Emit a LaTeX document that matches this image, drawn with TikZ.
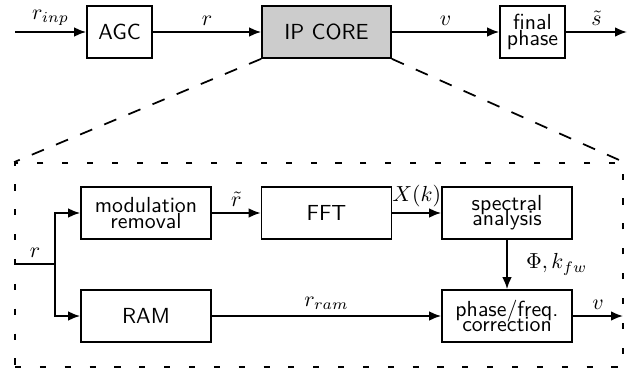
\documentclass[tikz,border=0pt]{standalone}
\usetikzlibrary{arrows.meta}
\begin{document}
\begin{tikzpicture}[x=0.4587pt,y=-0.4587pt,
  line width=0.8pt,
  box/.style={draw, inner sep=0pt, font=\sffamily, align=center, minimum height=23.85pt},
  sbox/.style={box, minimum width=29.82pt},
  wbox/.style={box, minimum width=59.63pt},
  arr/.style={-{Latex[length=5.5pt,width=4.4pt]}},
  lbl/.style={above, inner sep=2.5pt},
  bdash/.style={dash pattern=on 2.8pt off 8.6pt},
  sdash/.style={dash pattern=on 6pt off 6pt}]
\useasboundingbox (0,0) rectangle (632,371);
% top row
\node[sbox] (agc) at (119.5,32) {AGC};
\node[box, minimum width=59.17pt, fill=black!20] (ip) at (326.5,32) {IP CORE};
\node[sbox] (fin) at (532.5,32) {final\\[-5pt]phase};
\coordinate (in) at (15,32);
\coordinate (out) at (627,32);
\draw[arr] (in) -- node[lbl]{$r_{inp}$} (agc);
\draw[arr] (agc) -- node[lbl]{$r$} (ip);
\draw[arr] (ip) -- node[lbl]{$v$} (fin);
\draw[arr] (fin) -- node[lbl]{$\tilde{s}$} (out);
% core frame
\node[draw, bdash, minimum width=278.9pt, minimum height=93.57pt, inner sep=0pt] (core) at (319,265) {};
\draw[sdash] (ip.south west) -- (core.north west);
\draw[sdash] (ip.south east) -- (core.north east);
% inner blocks
\node[wbox] (mod) at (146,213) {modulation\\[-5pt]removal};
\node[wbox] (fft) at (326.5,213) {FFT};
\node[wbox] (spec) at (507,213) {spectral\\[-5pt]analysis};
\node[wbox] (ram) at (146,316) {RAM};
\node[wbox] (pf) at (507,316) {phase/freq.\\[-5pt]correction};
\coordinate (rin) at (15,264);
\coordinate (br) at (55,264);
\coordinate (vout) at (623,316);
\draw (rin) -- node[lbl]{$r$} (br);
\draw[arr] (br) |- (mod.west);
\draw[arr] (br) |- (ram.west);
\draw[arr] (mod) -- node[lbl]{$\tilde{r}$} (fft);
\draw[arr] (fft) -- node[lbl]{$X(k)$} (spec);
\draw[arr] (spec) -- node[right=5pt]{$\Phi,k_{fw}$} (pf);
\draw[arr] (ram) -- node[lbl]{$r_{ram}$} (pf);
\draw[arr] (pf) -- node[lbl]{$v$} (vout);
\end{tikzpicture}
\end{document}
